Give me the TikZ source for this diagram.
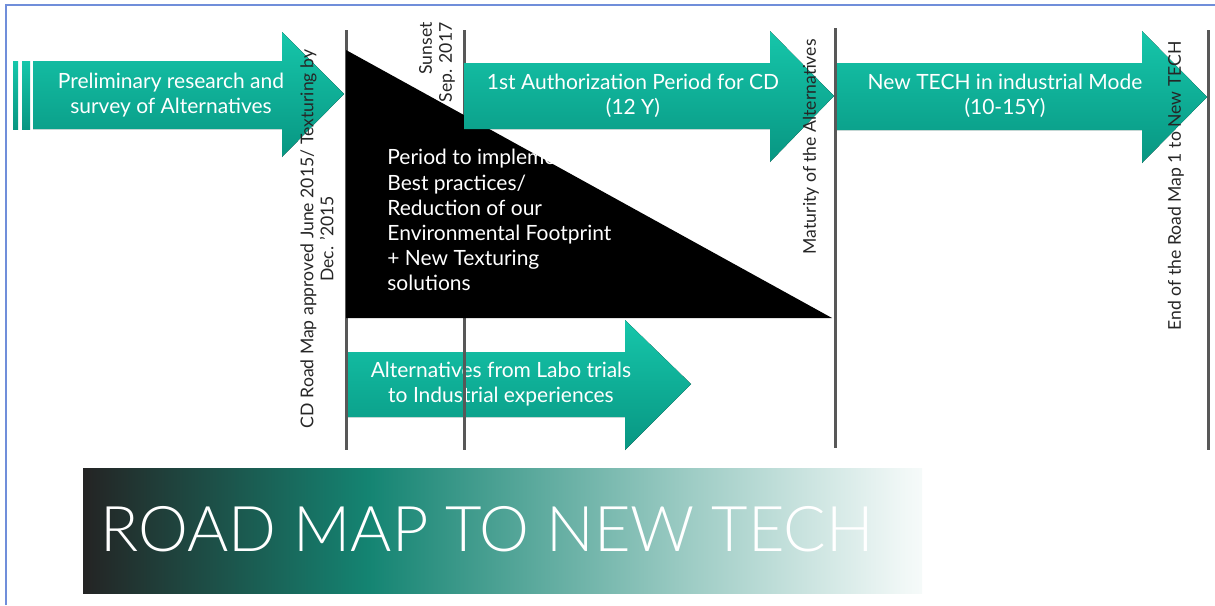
\documentclass[tikz,border=0pt]{standalone}
\usepackage{fontspec}
\setmainfont{Lato}
\newfontfamily\lightfont{Lato Light}
\usetikzlibrary{calc}
\definecolor{frameblue}{RGB}{112,142,218}
\definecolor{tealtop}{RGB}{22,198,170}
\definecolor{tealbot}{RGB}{8,150,130}
\definecolor{bannerdark}{RGB}{36,36,36}
\definecolor{bannerteal}{RGB}{20,132,114}
\definecolor{stickgray}{RGB}{88,88,88}
\pgfdeclarehorizontalshading{roadmapshade}{100bp}{color(0bp)=(bannerdark); color(25bp)=(bannerdark); color(42bp)=(bannerteal); color(61bp)=(bannerteal!42); color(74bp)=(bannerteal!6); color(77bp)=(white); color(100bp)=(white)}
\tikzset{tealarrow/.style={top color=tealtop, bottom color=tealbot}}
\tikzset{milestone/.style={draw=stickgray, line width=1.5pt}}
\tikzset{arrowtext/.style={text=white, align=center, inner sep=0pt, font=\fontsize{10.5}{12.5}\selectfont}}
\tikzset{sidelabel/.style={rotate=90, align=center, text=black!85, inner sep=0pt, font=\fontsize{8.8}{10}\selectfont}}

\begin{document}
\begin{tikzpicture}[x=0.5pt,y=-0.5pt]
    \useasboundingbox (0,0) rectangle (1215,605);
    \draw [frameblue, line width=1.2pt] (6,605) -- (6,5) -- (1215,5);
    % lower arrow sits under the milestones
    \fill [tealarrow] (347,352) -- (625,352) -- (625,320) -- (691,384) -- (625,450) -- (625,417) -- (347,417) -- cycle;
    \node [arrowtext] (labo) at (501,384) {Alternatives from Labo trials\\to Industrial experiences};
    \draw [milestone] (346,30) coordinate (m1) -- (346,450);
    \draw [milestone] (464,30) coordinate (m2) -- (464,450);
    \draw [milestone] (835,28) coordinate (m3) -- (835,448);
    \draw [milestone] (1208,30) coordinate (m4) -- (1208,450);
    \fill [black] (346,50) -- (832,318) -- (346,318) -- cycle;
    \node [text=white, align=left, anchor=north west, inner sep=0pt, font=\fontsize{10.5}{12.6}\selectfont] (period) at (387,149)
        {Period to implement\\Best practices/\\Reduction of our\\Environmental Footprint\\+ New Texturing\\solutions};
    % top row
    \fill [tealarrow] (13,61) rectangle (18,129);
    \fill [tealarrow] (22,61) rectangle (30,129);
    \fill [tealarrow] (33,61) -- (282,61) -- (282,32) -- (344,94) -- (282,157) -- (282,129) -- (33,129) -- cycle;
    \node [arrowtext] (prelim) at (171,95) {Preliminary research and\\survey of Alternatives};
    \fill [tealarrow] (464,63) -- (770,63) -- (770,31) -- (834,96) -- (770,162) -- (770,129) -- (464,129) -- cycle;
    \node [arrowtext] (authz) at (633,96) {1st Authorization Period for CD\\(12 Y)};
    \fill [tealarrow] (837,63) -- (1142,63) -- (1142,31) -- (1207,97) -- (1142,163) -- (1142,130) -- (837,130) -- cycle;
    \node [arrowtext] (newtech) at (1005,96) {New TECH in industrial Mode\\(10-15Y)};
    % milestone labels
    \node [sidelabel] (approved) at (317,239) {CD Road Map approved June 2015/ Texturing by\\Dec. '2015};
    \node [sidelabel, align=right, anchor=east] (sunset) at (437,22) {Sunset\\Sep. 2017};
    \node [sidelabel, anchor=east] (maturity) at (811,39) {Maturity of the Alternatives};
    \node [sidelabel, anchor=east] (endmap) at (1176,41) {End of the Road Map 1 to New TECH};
    % banner
    \fill [shading=roadmapshade] (83,468) rectangle (922,593);
    \node [anchor=base west, inner sep=0pt, text=white, font=\lightfont\fontsize{31.5}{32}\selectfont] (title) at (100,551) {ROAD MAP TO NEW TECH};
\end{tikzpicture}
\end{document}
